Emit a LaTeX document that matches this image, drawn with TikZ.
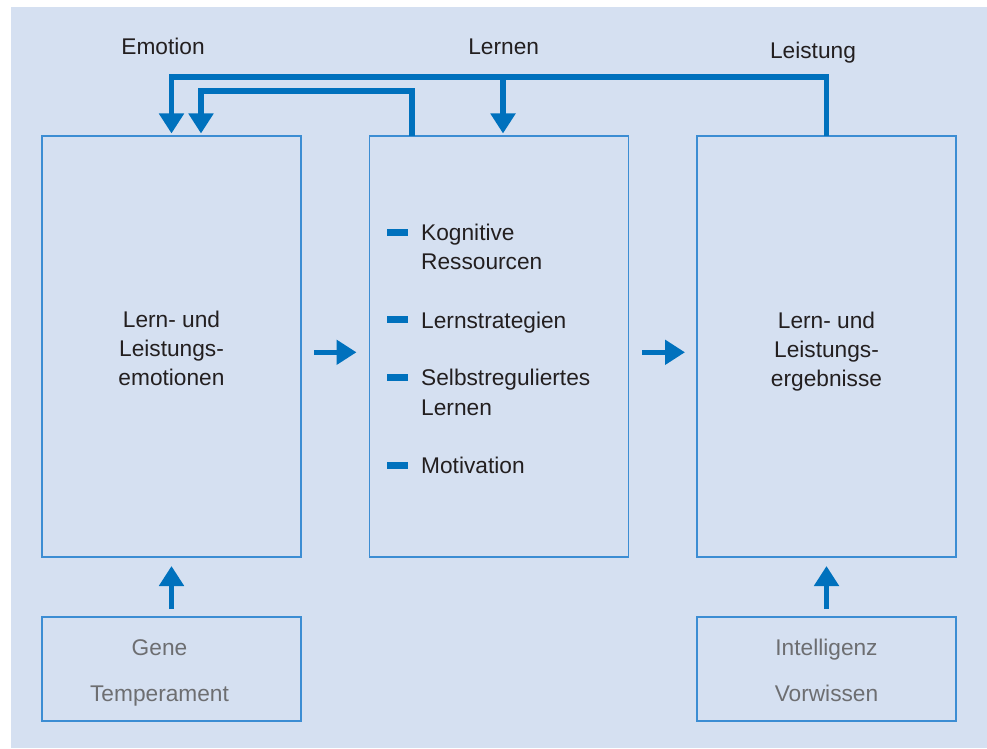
\documentclass[tikz,border=0pt]{standalone}
\usepackage{fontspec}
\setmainfont{Liberation Sans}
\usetikzlibrary{arrows.meta, positioning}

\definecolor{panelbg}{HTML}{D5E0F1}
\definecolor{boxline}{HTML}{3C8DD3}
\definecolor{arrowblue}{HTML}{0071BD}
\definecolor{inktext}{HTML}{231F20}
\definecolor{softgrey}{HTML}{6D6E71}

\begin{document}
\begin{tikzpicture}[
    x=1pt, y=1pt,
    node distance=60pt and 68.5pt,
    bigbox/.style={rectangle, draw=boxline, line width=1.6pt, outer sep=0pt, minimum width=259pt, minimum height=421pt},
    smallbox/.style={bigbox, minimum height=104pt},
    boxtext/.style={align=center, text=inktext, font=\fontsize{22.7}{29}\selectfont},
    softtext/.style={align=center, text=softgrey, font=\fontsize{22.7}{46.7}\selectfont},
    itemtext/.style={anchor=north west, inner sep=0pt, align=left, text=inktext, font=\fontsize{22.7}{29.3}\selectfont},
    itembar/.style={fill=arrowblue, minimum width=21pt, minimum height=7pt, inner sep=0pt},
    toplabel/.style={anchor=base, text=inktext, font=\fontsize{22.7}{28}\selectfont},
    arr/.style={-{Triangle[width=24pt, length=20pt]}, line width=5.5pt, draw=arrowblue},
]

% panel
\useasboundingbox (0,0) rectangle (987,748);
\fill[panelbg] (11,0) rectangle (987,741);

% ======== MAIN COLUMNS ========
\node[bigbox] (emo) at (171.5,401.5) {};
\node[bigbox, right=of emo] (lern) {};
\node[bigbox, right=of lern] (ergeb) {};
\node[boxtext] (emotxt) at ([yshift=-2pt]emo.center) {Lern- und\\Leistungs-\\emotionen};
\node[boxtext] (ergebtxt) at ([yshift=-5pt]ergeb.center) {Lern- und\\Leistungs-\\ergebnisse};

% ======== INPUT BOXES ========
\node[smallbox, below=of emo] (gene) {};
\node[smallbox, below=of ergeb] (intel) {};
\node[softtext] (genetxt) at ([xshift=-12pt, yshift=-4pt]gene.center) {Gene\\Temperament};
\node[softtext] (inteltxt) at ([yshift=-1.5pt]intel.center) {Intelligenz\\Vorwissen};

% ======== LIST IN THE MIDDLE ========
\node[itemtext] (kog) at ([shift={(51.5,-88)}]lern.north west) {Kognitive\\Ressourcen};
\node[itemtext] (strat) at ([shift={(51.5,-175.4)}]lern.north west) {Lernstrategien};
\node[itemtext] (selbst) at ([shift={(51.5,-233.1)}]lern.north west) {Selbstreguliertes\\Lernen};
\node[itemtext] (motiv) at ([shift={(51.5,-320.6)}]lern.north west) {Motivation};

\node[itembar] (kogbar) at ([shift={(-23.5,-8.6)}]kog.north west) {};
\node[itembar] (stratbar) at ([shift={(-23.5,-8.6)}]strat.north west) {};
\node[itembar] (selbstbar) at ([shift={(-23.5,-8.3)}]selbst.north west) {};
\node[itembar] (motivbar) at ([shift={(-23.5,-8.6)}]motiv.north west) {};

% ======== FORWARD ARROWS ========
\draw[arr, shorten <=13pt, shorten >=13pt] ([yshift=-5.8pt]emo.east) -- ([yshift=-5.8pt]lern.west);
\draw[arr, shorten <=13.5pt, shorten >=12pt] ([yshift=-5.8pt]lern.east) -- ([yshift=-5.8pt]ergeb.west);
\draw[arr, shorten <=8pt, shorten >=9pt] (gene.north) -- (emo.south);
\draw[arr, shorten <=8pt, shorten >=9pt] (intel.north) -- (ergeb.south);

% ======== FEEDBACK LOOPS ========
\coordinate (fbtop) at ([yshift=59pt]ergeb.north);
\coordinate (fbinner) at ([xshift=42.5pt, yshift=45pt]lern.north west);
\coordinate (lernin) at ([xshift=4pt]lern.north);
\coordinate (emoin) at ([xshift=29.5pt]emo.north);

\draw[arr, shorten >=2.5pt] (ergeb.north) -- (fbtop) -| (emo.north);
\draw[arr, shorten >=2.5pt] (lernin |- fbtop) -- (lernin);
\draw[arr, shorten >=2.5pt] ([xshift=42.5pt]lern.north west) -- (fbinner) -| (emoin);

% labels over the loops
\node[toplabel] (lblemotion) at (163,693) {Emotion};
\node[toplabel] (lbllernen) at (503.7,693.7) {Lernen};
\node[toplabel] (lblleistung) at (813,689.7) {Leistung};

\end{tikzpicture}
\end{document}
